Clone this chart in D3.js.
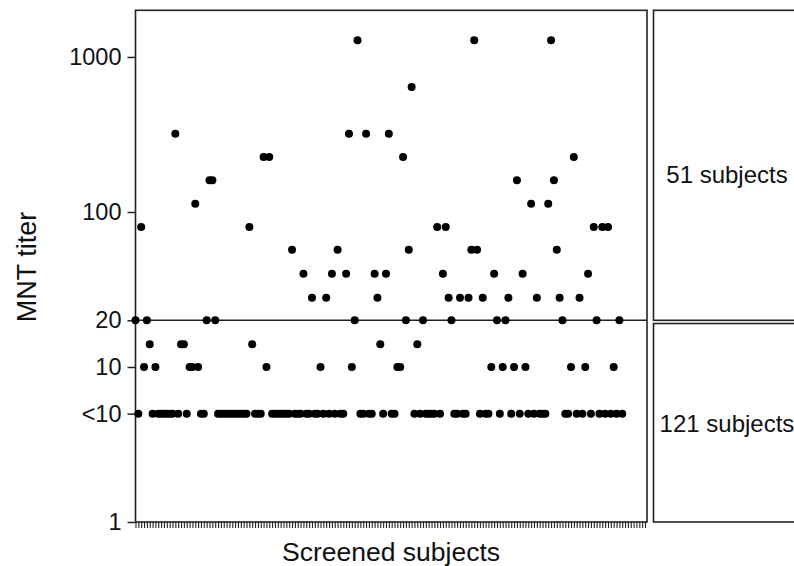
<!DOCTYPE html>
<html><head><meta charset="utf-8">
<script src="https://cdn.jsdelivr.net/npm/d3@7"></script>
<style>body{margin:0;background:#fff} text{font-family:"Liberation Sans",Arial,sans-serif;fill:#111}</style>
</head><body><svg id="c" width="794" height="566"></svg>
<script>
// MNT titer per screened subject (5 = "<10")
const titers = [
  20,5,80,10,20,14,5,10,5,5, 5,5,5,5,320,5,14,14,5,10,
  10,113,10,5,5,20,160,160,20,5, 5,5,5,5,5,5,5,5,5,5,
  80,14,5,5,5,226,10,226,5,5, 5,5,5,5,5,57,5,5,5,40,
  5,5,28,5,5,10,5,28,5,40, 5,57,5,5,40,320,10,20,1280,5,
  5,320,5,5,40,28,14,5,40,320, 5,5,10,10,226,20,57,640,5,14,
  5,20,5,5,5,5,80,5,40,80, 28,20,5,5,28,5,5,28,57,1280,
  57,5,28,5,5,10,40,20,5,10, 20,28,5,10,160,5,40,10,5,113,
  5,28,5,5,5,113,1280,160,57,28, 20,5,5,10,226,5,28,5,10,40,
  5,80,20,5,80,5,80,5,10,5, 20,5
];
const axisPositions = 180;           // number of x-axis tick marks
const yTickValues = [1, 5, 10, 20, 100, 1000];
const yTickLabels = ["1", "<10", "10", "20", "100", "1000"];
const cutoff = 20;
const panelLabels = ["51 subjects", "121 subjects"];
const xTitle = "Screened subjects";
const yTitle = "MNT titer";

const svg = d3.select("#c");
const L = 135.5, R = 647, T = 10.3, B = 522;
const x = d3.scaleLinear().domain([0, axisPositions - 1]).range([L, 645]);
const y = d3.scaleLog().domain([1, 2000]).range([B, T]);

// plot frame
svg.append("rect").attr("x", L).attr("y", T).attr("width", R - L).attr("height", B - T)
  .attr("fill", "none").attr("stroke", "#222").attr("stroke-width", 1.6);

// y axis
const yAxis = d3.axisLeft(y).tickValues(yTickValues).tickSize(8).tickPadding(6)
  .tickFormat((d, i) => yTickLabels[i]);
const gy = svg.append("g").attr("transform", `translate(${L},0)`).call(yAxis);
gy.select(".domain").remove();
gy.selectAll(".tick line").attr("stroke", "#222").attr("stroke-width", 1.5);
gy.selectAll(".tick text").style("font-size", "23.5px").attr("fill", "#111");

// x axis ticks
const xAxis = d3.axisBottom(x).tickValues(d3.range(axisPositions)).tickSize(6).tickFormat("");
const gx = svg.append("g").attr("transform", `translate(0,${B})`).call(xAxis);
gx.select(".domain").remove();
gx.selectAll(".tick line").attr("stroke", "#222").attr("stroke-width", 1.1);

// cutoff line
svg.append("line").attr("x1", L).attr("x2", R).attr("y1", y(cutoff)).attr("y2", y(cutoff))
  .attr("stroke", "#222").attr("stroke-width", 1.6);

// points
svg.append("g").selectAll("circle").data(titers).join("circle")
  .attr("cx", (d, i) => x(i)).attr("cy", d => y(d)).attr("r", 4).attr("fill", "#000");

// right panels
const px = 653.5;
const panels = [[T, y(cutoff)], [y(cutoff) + 3.2, B]];
const labelY = [183, 432];
panels.forEach((p, i) => {
  svg.append("rect").attr("x", px).attr("y", p[0]).attr("width", 170).attr("height", p[1] - p[0])
    .attr("fill", "none").attr("stroke", "#222").attr("stroke-width", 1.6);
  svg.append("text").attr("x", 727).attr("y", labelY[i])
    .attr("text-anchor", "middle").style("font-size", "24px").text(panelLabels[i]);
});

// titles
svg.append("text").attr("x", 391).attr("y", 561).attr("text-anchor", "middle")
  .style("font-size", "26.5px").text(xTitle);
svg.append("text").attr("transform", `translate(36,267) rotate(-90)`).attr("text-anchor", "middle")
  .style("font-size", "27px").text(yTitle);
</script></body></html>
